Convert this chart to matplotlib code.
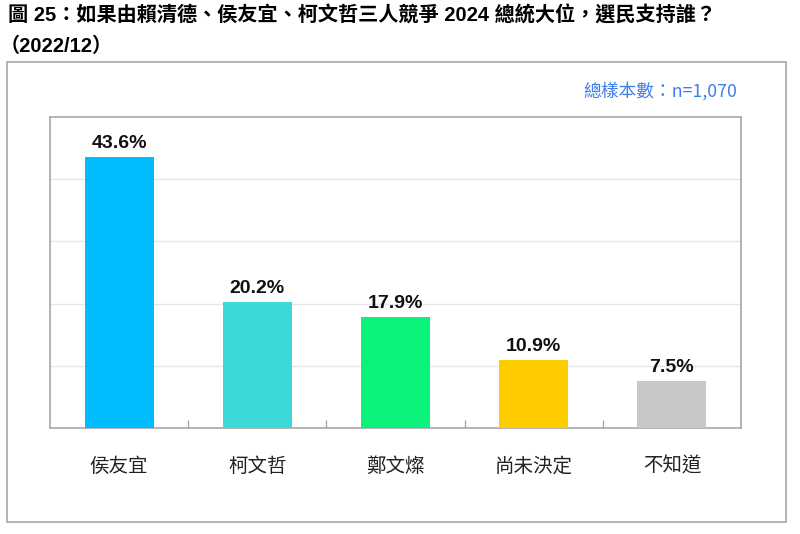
import matplotlib.pyplot as plt
from matplotlib.patches import Rectangle

# ---- datos ----
categorias = ["侯友宜", "柯文哲", "鄭文燦", "尚未決定", "不知道"]
valores = [43.6, 20.2, 17.9, 10.9, 7.5]
colores = ["#00BBFF", "#3DD9D9", "#0BF27A", "#FFCC00", "#C8C8C8"]
titulo = "圖 25：如果由賴清德、侯友宜、柯文哲三人競爭 2024 總統大位，選民支持誰？"
subtitulo = "（2022/12）"
nota = "總樣本數：n=1,070"

plt.rcParams["font.family"] = ["Liberation Sans", "Noto Sans CJK TC", "DejaVu Sans"]

fig = plt.figure(figsize=(8, 5.34), dpi=100)

# marco exterior
fig.patches.append(Rectangle((7 / 800, 1 - 522 / 534), 779 / 800, 460 / 534,
                             transform=fig.transFigure, fill=False,
                             edgecolor="#A8A8A8", linewidth=1.2))

fig.text(8 / 800, 1 - 15 / 534, titulo, fontsize=14.5, fontweight="bold",
         va="center", ha="left", color="#000000")
fig.text(0 / 800, 1 - 46 / 534, subtitulo, fontsize=14.5, fontweight="bold",
         va="center", ha="left", color="#000000")
fig.text(737 / 800, 1 - 91 / 534, nota, fontsize=12.8, color="#3F7FE6",
         va="center", ha="right", family=["Noto Sans CJK TC", "DejaVu Sans"])

ax = fig.add_axes([50 / 800, 1 - 428 / 534, 691 / 800, 311 / 534])
x = range(len(categorias))
bars = ax.bar(x, valores, width=0.5, color=colores, zorder=3)

for b, v in zip(bars, valores):
    ax.text(b.get_x() + b.get_width() / 2, v + 0.8, f"{v}%",
            ha="center", va="bottom", fontsize=14, fontweight="bold",
            color="#111111")

ax.set_xlim(-0.5, len(categorias) - 0.5)
ax.set_ylim(0, 50)
ax.set_yticks([10, 20, 30, 40])
ax.yaxis.grid(True, color="#E6E6E6", linewidth=1, zorder=0)
ax.tick_params(axis="y", left=False, labelleft=False)

# marcas entre categorias
ax.set_xticks([i + 0.5 for i in range(len(categorias) - 1)], minor=True)
ax.tick_params(axis="x", which="minor", direction="in", length=6,
               color="#A8A8A8", width=1)
ax.set_xticks(list(x))
ax.set_xticklabels(categorias, fontsize=14, color="#222222",
                   family=["Noto Sans CJK TC", "DejaVu Sans"])
ax.tick_params(axis="x", which="major", length=0, pad=20)

for s in ax.spines.values():
    s.set_color("#A8A8A8")
    s.set_linewidth(1.2)

fig.savefig("out.png", dpi=100)
